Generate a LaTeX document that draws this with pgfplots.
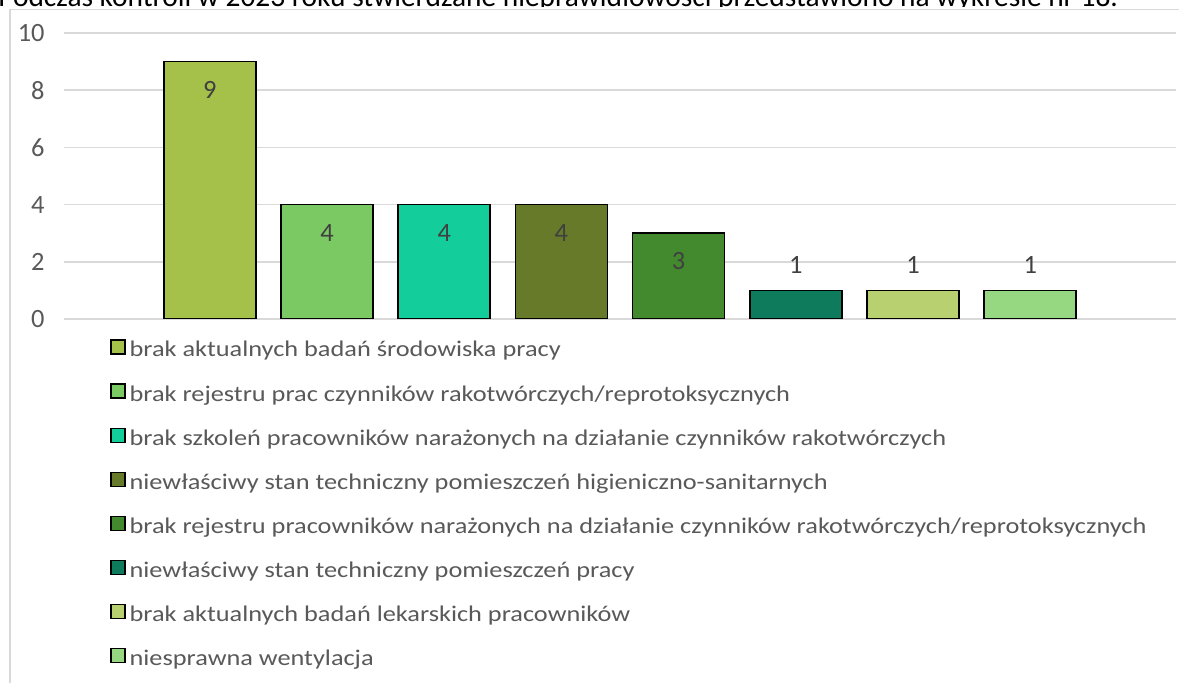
\documentclass[border=0pt]{standalone}
\usepackage{fontspec}
\setmainfont{Carlito}
\newfontfamily\legfont{Carlito}[FakeStretch=1.175]
\usepackage{pgfplots}
\pgfplotsset{compat=1.18}

\definecolor{c1}{HTML}{A6C14A}
\definecolor{c2}{HTML}{7BC963}
\definecolor{c3}{HTML}{13CE9A}
\definecolor{c4}{HTML}{667A2A}
\definecolor{c5}{HTML}{438A2F}
\definecolor{c6}{HTML}{0E7C5C}
\definecolor{c7}{HTML}{B9D071}
\definecolor{c8}{HTML}{96D882}
\definecolor{gridc}{HTML}{D9D9D9}
\definecolor{txt}{HTML}{595959}
\definecolor{lbl}{HTML}{404040}

\pgfplotsset{
  bar/.style={fill=#1, draw=black, line width=0.85pt, bar shift=0pt, nodes near coords},
  lin/.style={nodes near coords style={anchor=center, yshift=-14pt}},
  lout/.style={nodes near coords style={anchor=center, yshift=12.5pt}},
}

\begin{document}
\begin{tikzpicture}
% 1 px of the reference = 0.5pt
\useasboundingbox (0pt,0pt) rectangle (589.5pt,341.5pt);
\clip (0pt,0pt) rectangle (589.5pt,341.5pt);
% page text above the chart, mostly hidden by the frame
\node[anchor=base west, inner sep=0pt, font=\fontsize{14.7}{16}\selectfont] at (-1pt,338pt)
  {Podczas kontroli w 2023 roku stwierdzane nieprawidłowości przedstawiono na wykresie nr 18.};
\fill[white] (5pt,0pt) rectangle (590pt,337.75pt);
\draw[gridc, line width=0.75pt] (5pt,-1pt) -- (5pt,336.75pt) -- (592pt,336.75pt);

\begin{axis}[
    at={(32pt,182pt)}, anchor=south west,
    scale only axis, width=556pt, height=143pt,
    xmin=-0.244, xmax=9.244, ymin=0, ymax=10,
    ytick={0,2,...,10}, xtick=\empty,
    ymajorgrids, grid style={gridc, line width=0.75pt},
    axis line style={draw=none}, major tick length=0pt,
    /pgf/number format/assume math mode=true,
    ticklabel style={font=\fontsize{13.2}{15}\selectfont, text=txt},
    yticklabel style={inner sep=0pt, xshift=-9.5pt},
    ybar, bar width=46pt,
    nodes near coords style={font=\fontsize{13.2}{15}\selectfont, text=lbl},
    legend image code/.code={\draw[#1, line width=0.6pt] (0pt,-1pt) rectangle (7pt,6pt);},
    legend cell align=left,
    legend style={at={(axis description cs:0.0414,-0.0699)}, anchor=north west,
      draw=none, fill=none, inner sep=0pt, row sep=10.75pt, column sep=2pt,
      font=\legfont\fontsize{11.2}{12}\selectfont, text=txt,
      nodes={inner sep=0pt, text height=7.5pt, text depth=2.5pt}},
]
\addplot[bar=c1, lin] coordinates {(1,9)};
\addplot[bar=c2, lin] coordinates {(2,4)};
\addplot[bar=c3, lin] coordinates {(3,4)};
\addplot[bar=c4, lin] coordinates {(4,4)};
\addplot[bar=c5, lin] coordinates {(5,3)};
\addplot[bar=c6, lout] coordinates {(6,1)};
\addplot[bar=c7, lout] coordinates {(7,1)};
\addplot[bar=c8, lout] coordinates {(8,1)};
\legend{brak aktualnych badań środowiska pracy,
  brak rejestru prac czynników rakotwórczych/reprotoksycznych,
  brak szkoleń pracowników narażonych na działanie czynników rakotwórczych,
  niewłaściwy stan techniczny pomieszczeń higieniczno-sanitarnych,
  brak rejestru pracowników narażonych na działanie czynników rakotwórczych/reprotoksycznych,
  niewłaściwy stan techniczny pomieszczeń pracy,
  brak aktualnych badań lekarskich pracowników,
  niesprawna wentylacja}
\end{axis}
\end{tikzpicture}
\end{document}
